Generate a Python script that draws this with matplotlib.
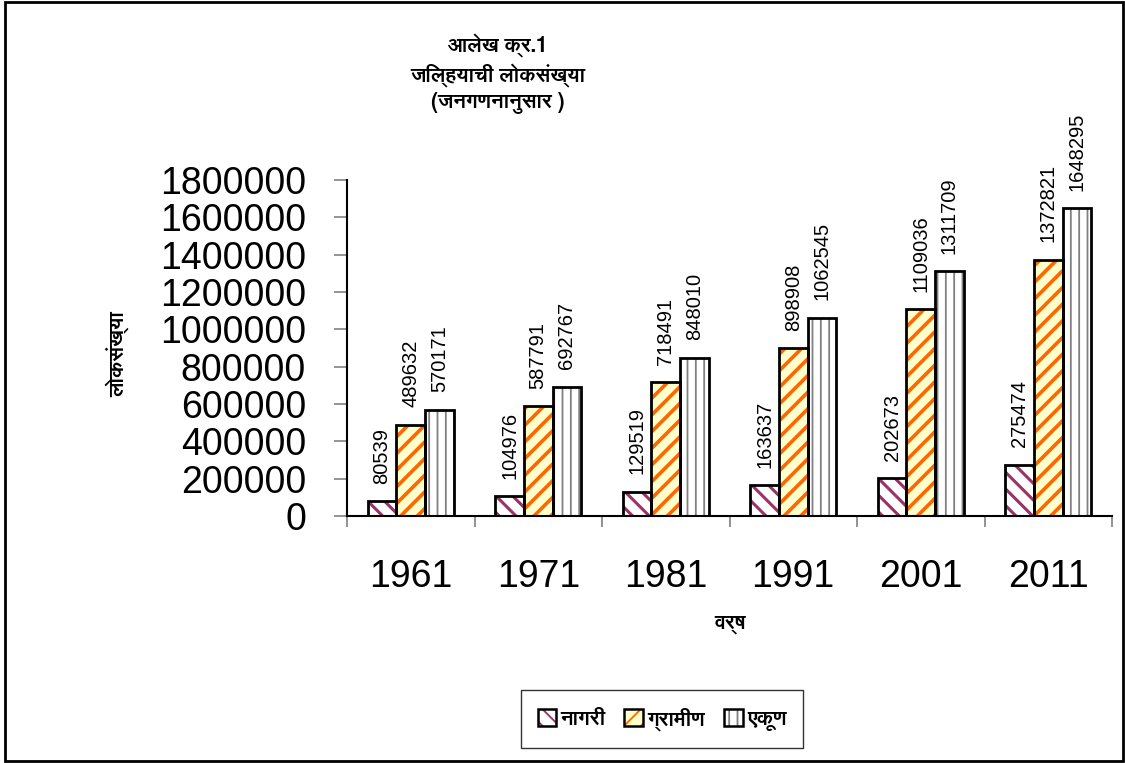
import matplotlib
matplotlib.use("Agg")
import matplotlib.pyplot as plt
from matplotlib import font_manager
from matplotlib.ft2font import FT2Font
from matplotlib.patches import Patch, Rectangle
from matplotlib.legend_handler import HandlerTuple
import numpy as np

# ---------------- data ----------------
years = ["1961", "1971", "1981", "1991", "2001", "2011"]
nagari = [80539, 104976, 129519, 163637, 202673, 275474]
gramin = [489632, 587791, 718491, 898908, 1109036, 1372821]
ekun = [570171, 692767, 848010, 1062545, 1311709, 1648295]
series_names = ["नागरी", "ग्रामीण", "एकूण"]
y_ticks = [0, 200000, 400000, 600000, 800000, 1000000, 1200000, 1400000, 1600000, 1800000]
title_lines = ["आलेख क्र.1", "जिल्हयाची लोकसंख्या", "(जनगणनानुसार )"]
y_label = "लोकसंख्या"
x_label = "वर्ष"

# ---------------- fonts ----------------
fams = {}
for f in font_manager.fontManager.ttflist:
    try:
        if 0x0915 in FT2Font(f.fname).get_charmap():
            fams.setdefault(f.name, set()).add(f.weight)
    except Exception:
        pass
pref = ["Noto Sans Devanagari", "Noto Serif Devanagari", "FreeSans", "Lohit Devanagari",
        "Mukta", "Kalimati", "FreeSerif", "Gargi", "Samanata"]
def score(name):
    s = 0
    if name in pref:
        s += 100 - pref.index(name)
    ws = fams[name]
    if any((isinstance(w, int) and w >= 600) or w in ("bold", "heavy", "black") for w in ws):
        s += 50
    if "Mono" in name:
        s -= 80
    return s
deva_sorted = sorted(fams, key=score, reverse=True)
DEVA = deva_sorted[:1] + ["DejaVu Sans"]
plt.rcParams['font.family'] = ["Liberation Sans", "DejaVu Sans"]

fig = plt.figure(figsize=(11.25, 7.63), dpi=100)
ax = fig.add_axes([347/1125, 1-516/763, (1112-347)/1125, (516-180)/763])

x = np.arange(len(years))
w = 0.225
styles = [
    (nagari, "white", "#993366", "\\\\", 2.2),
    (gramin, "#FFFFCC", "#FF6600", "//", 2.6),
    (ekun, "white", "#808080", "||", 1.3),
]
handles = []
for i, (vals, fc, hc, hatch, hlw) in enumerate(styles):
    plt.rcParams['hatch.linewidth'] = hlw
    pos = x + (i - 1) * w
    ax.bar(pos, vals, width=w, color=fc, edgecolor=hc, hatch=hatch, linewidth=0, zorder=2)
    ax.bar(pos, vals, width=w, fill=False, edgecolor="black", linewidth=2, zorder=3)
    p1 = Patch(facecolor=fc, edgecolor=hc, hatch=hatch, linewidth=0)
    p2 = Patch(fill=False, edgecolor="black", linewidth=1.8)
    handles.append((p1, p2))
    for xp, v in zip(pos, vals):
        ax.annotate(str(v), (xp, v), xytext=(0, 12.5), textcoords="offset points",
                    rotation=90, ha="center", va="bottom", fontsize=14.5)

ax.set_xlim(-0.5, len(years) - 0.5)
ax.set_ylim(0, 1800000)
ax.set_yticks(y_ticks)
ax.set_yticklabels([str(t) for t in y_ticks], fontsize=27)
ax.set_xticks(x)
ax.set_xticklabels(years, fontsize=27)
ax.set_xticks(np.arange(len(years) + 1) - 0.5, minor=True)
ax.tick_params(axis="x", which="major", length=0, pad=31)
ax.tick_params(axis="x", which="minor", length=8, direction="out", color="#808080", width=1.2)
ax.tick_params(axis="y", which="major", length=9.5, direction="out", color="#808080", width=1.2, pad=20)
for s in ["top", "right"]:
    ax.spines[s].set_visible(False)
for s in ["left", "bottom"]:
    ax.spines[s].set_color("black")
    ax.spines[s].set_linewidth(1.5)

# title
for yy, t in zip([45, 75, 103], title_lines):
    fig.text(498/1125, 1 - yy/763, t, ha="center", va="center", fontsize=15,
             fontweight="bold", family=DEVA)
fig.text(117/1125, 1 - 354/763, y_label, rotation=90, ha="center", va="center",
         fontsize=15, fontweight="bold", family=DEVA)
fig.text(730/1125, 1 - 623/763, x_label, ha="center", va="center",
         fontsize=15, fontweight="bold", family=DEVA)

leg = fig.legend(handles, series_names, loc="center", bbox_to_anchor=(662/1125, 1 - 719/763),
                 ncol=3, handler_map={tuple: HandlerTuple(ndivide=1)},
                 prop=font_manager.FontProperties(family=DEVA, weight="bold", size=15),
                 frameon=True, fancybox=False, handlelength=0.9, handleheight=0.9,
                 handletextpad=0.2, columnspacing=0.9, borderpad=0.8, borderaxespad=0)
leg.get_frame().set_edgecolor("black")
leg.get_frame().set_linewidth(1)

fig.add_artist(Rectangle((4.5/1125, 2/763), (1122.5-4.5)/1125, (761-2)/763,
                         transform=fig.transFigure, fill=False, edgecolor="black", linewidth=2))

fig.savefig("out.png", dpi=100)
